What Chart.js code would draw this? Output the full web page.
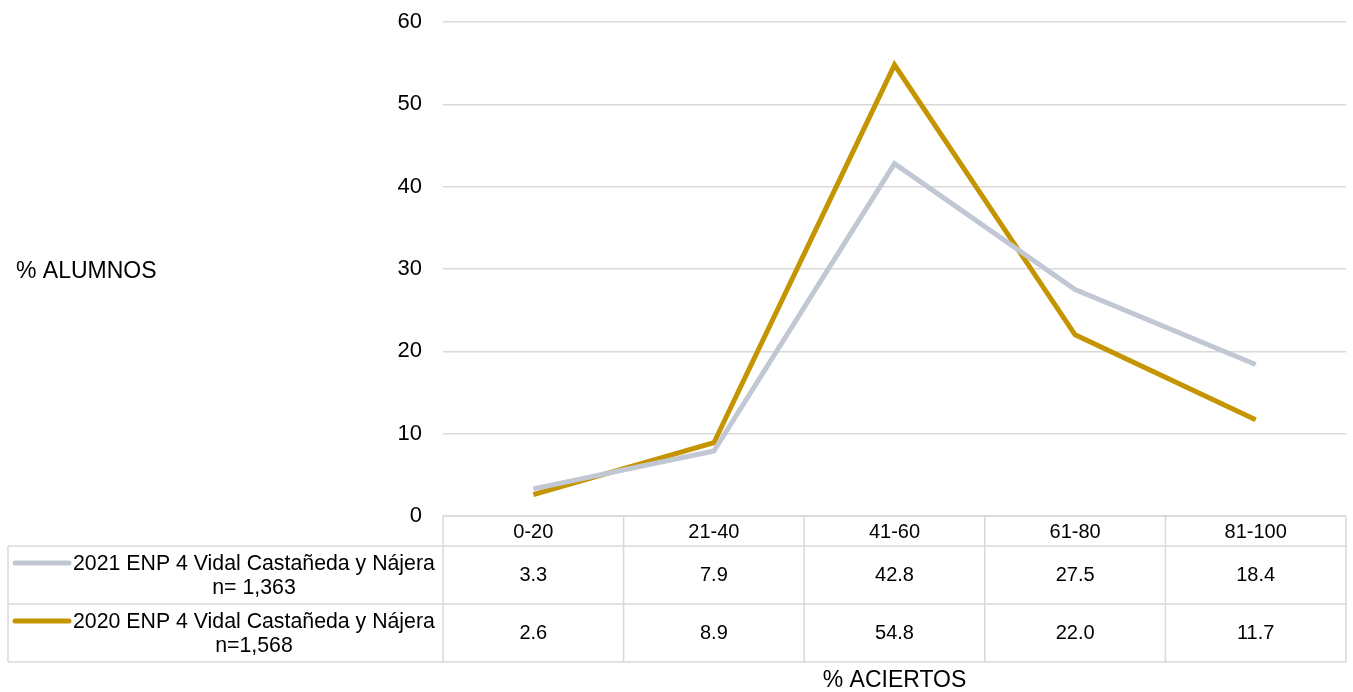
<!DOCTYPE html>
<html>
<head>
<meta charset="utf-8">
<script src="https://cdn.jsdelivr.net/npm/chart.js"></script>
<style>
  html, body { margin: 0; padding: 0; background: #fff; }
  #wrap { width: 1353px; height: 692px; }
</style>
</head>
<body>
<div id="wrap"><canvas id="myChart" width="1353" height="692"></canvas></div>
<script>
// chart data
var categories = ['0-20', '21-40', '41-60', '61-80', '81-100'];
var values2021 = [3.3, 7.9, 42.8, 27.5, 18.4];
var values2020 = [2.6, 8.9, 54.8, 22.0, 11.7];
var seriesNames = [
  ['2021 ENP 4 Vidal Castañeda y Nájera', 'n= 1,363'],
  ['2020 ENP 4 Vidal Castañeda y Nájera', 'n=1,568']
];
var yTitle = '% ALUMNOS';
var xTitle = '% ACIERTOS';

var FONT = '"Liberation Sans", Arial, sans-serif';
var GREY = '#c1c8d4';
var GOLD = '#c49500';
var BORDER = '#d9d9d9';

// draws the data table under the plot, the legend keys and the axis titles
var tablePlugin = {
  id: 'dataTable',
  afterDraw: function(chart) {
    var ctx = chart.ctx;
    var area = chart.chartArea;
    var x = chart.scales.x;
    var colW = (area.right - area.left) / categories.length;
    var tableLeft = 8;
    var top = area.bottom;
    var headerBottom = top + 30;
    var rowH = 58;
    var rows = [values2021, values2020];
    var colors = [GREY, GOLD];

    ctx.save();
    ctx.strokeStyle = BORDER;
    ctx.lineWidth = 1.5;
    ctx.beginPath();
    ctx.moveTo(area.left, top); ctx.lineTo(area.right, top);
    for (var i = 0; i <= categories.length; i++) {
      var cx = area.left + i * colW;
      ctx.moveTo(cx, top); ctx.lineTo(cx, headerBottom + rowH * 2);
    }
    ctx.moveTo(tableLeft, headerBottom); ctx.lineTo(area.right, headerBottom);
    ctx.moveTo(tableLeft, headerBottom + rowH); ctx.lineTo(area.right, headerBottom + rowH);
    ctx.moveTo(tableLeft, headerBottom + rowH * 2); ctx.lineTo(area.right, headerBottom + rowH * 2);
    ctx.moveTo(tableLeft, headerBottom); ctx.lineTo(tableLeft, headerBottom + rowH * 2);
    ctx.stroke();

    ctx.fillStyle = '#000';
    ctx.font = '20px ' + FONT;
    ctx.textAlign = 'center';
    ctx.textBaseline = 'middle';
    categories.forEach(function(c, i) {
      ctx.fillText(c, x.getPixelForValue(i), top + 16);
    });
    rows.forEach(function(r, k) {
      var rowTop = headerBottom + k * rowH;
      ctx.font = '20px ' + FONT;
      r.forEach(function(v, i) {
        ctx.fillText(v.toFixed(1), x.getPixelForValue(i), rowTop + 29);
      });
      // legend key
      ctx.strokeStyle = colors[k];
      ctx.lineWidth = 5;
      ctx.lineCap = 'round';
      ctx.beginPath();
      ctx.moveTo(15, rowTop + 17); ctx.lineTo(69, rowTop + 17);
      ctx.stroke();
      ctx.font = '21.3px ' + FONT;
      ctx.textAlign = 'left';
      ctx.fillText(seriesNames[k][0], 73, rowTop + 18);
      ctx.textAlign = 'center';
      ctx.fillText(seriesNames[k][1], 254, rowTop + 42);
    });

    ctx.font = '23px ' + FONT;
    ctx.textAlign = 'left';
    ctx.fillText(yTitle, 16, 272);
    ctx.textAlign = 'center';
    ctx.fillText(xTitle, (area.left + area.right) / 2, 681);
    ctx.restore();
  }
};

var ctx = document.getElementById('myChart').getContext('2d');

var config = {
  type: 'line',
  data: {
    labels: categories,
    datasets: [{
      label: seriesNames[0].join(' '),
      data: values2021,
      borderColor: GREY,
      backgroundColor: GREY,
      borderWidth: 5,
      pointRadius: 0,
      fill: false
    }, {
      label: seriesNames[1].join(' '),
      data: values2020,
      borderColor: GOLD,
      backgroundColor: GOLD,
      borderWidth: 5,
      pointRadius: 0,
      fill: false
    }]
  },
  options: {
    responsive: false,
    animation: false,
    layout: { padding: { left: 0, top: 22, right: 7, bottom: 176 } },
    plugins: { legend: { display: false }, tooltip: { enabled: false } },
    scales: {
      x: { type: 'category', offset: true, display: false },
      y: {
        min: 0, max: 60,
        ticks: { stepSize: 10, padding: 21, color: '#000', font: { family: FONT, size: 22 } },
        grid: { color: BORDER, lineWidth: 1.5, drawTicks: false },
        border: { display: false },
        afterFit: function(scale) {
          scale.width = 443;
          scale.paddingTop = 0;
          scale.paddingBottom = 0;
        }
      }
    }
  },
  plugins: [tablePlugin]
};

var myChart = new Chart(ctx, config);
</script>
</body>
</html>
